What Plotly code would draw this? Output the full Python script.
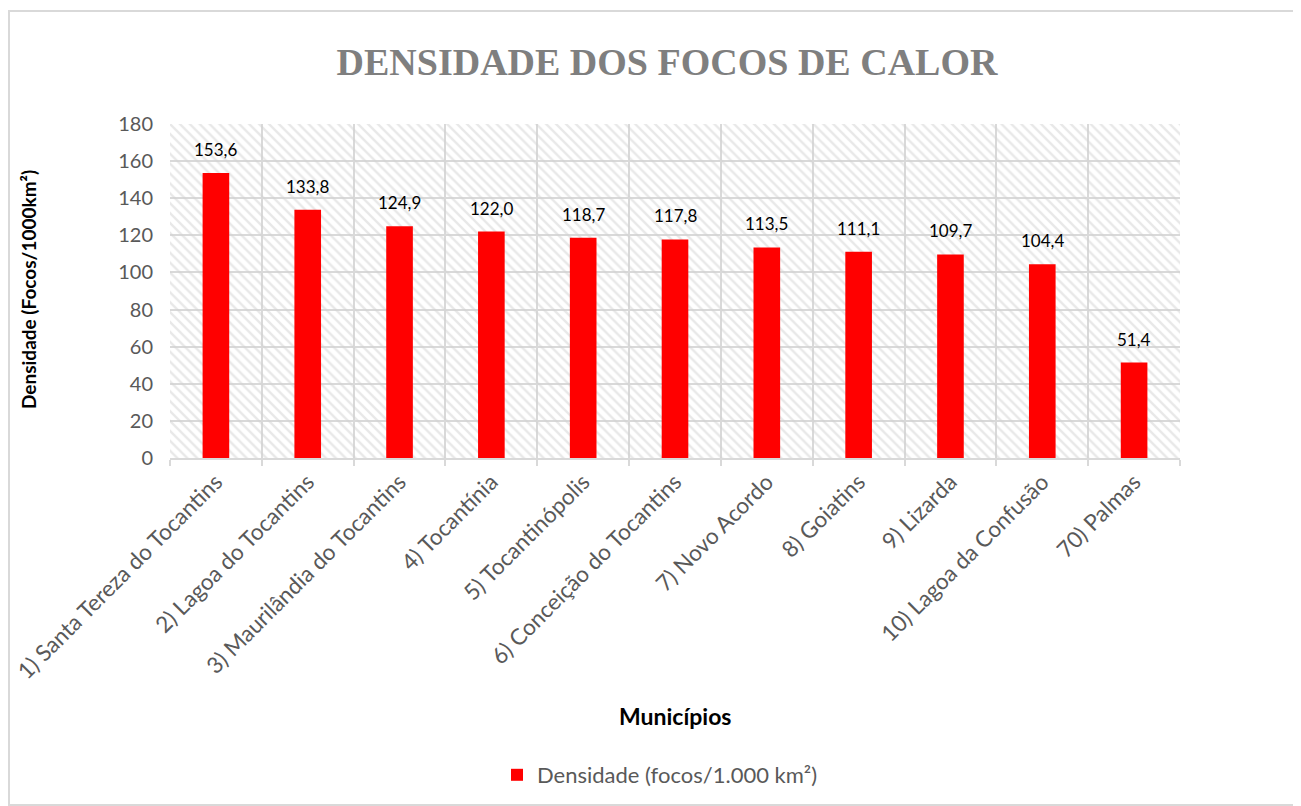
import plotly.graph_objects as go

municipios = [
    "1) Santa Tereza do Tocantins",
    "2) Lagoa do Tocantins",
    "3) Maurilândia do Tocantins",
    "4) Tocantínia",
    "5) Tocantinópolis",
    "6) Conceição do Tocantins",
    "7) Novo Acordo",
    "8) Goiatins",
    "9) Lizarda",
    "10) Lagoa da Confusão",
    "70) Palmas",
]
densidade = [153.6, 133.8, 124.9, 122.0, 118.7, 117.8, 113.5, 111.1, 109.7, 104.4, 51.4]
y_ticks = [0, 20, 40, 60, 80, 100, 120, 140, 160, 180]
y_max = 180

FONT = "Lato"
GRAY = "#595959"

# page offset (body margin) compensation
OFF = 8
L, R, T, B = 170 - OFF, 1180 - OFF, 124 - OFF, 458 - OFF
PW, PH = R - L, B - T


def px_x(px):
    return (px - OFF - L) / PW


def px_y(py):
    return (B - (py - OFF)) / PH


fig = go.Figure()

# hatched plot-area background
fig.add_trace(go.Bar(
    x=municipios, y=[y_max] * len(municipios), width=1,
    marker=dict(color="rgba(0,0,0,0)", line=dict(width=0),
                pattern=dict(shape="\\", fgcolor="#d2d2d2", size=7, solidity=0.35, fillmode="overlay")),
    showlegend=False, hoverinfo="skip",
))

fig.add_trace(go.Bar(
    x=municipios, y=densidade, width=0.29,
    name="Densidade (focos/1.000 km²)",
    marker=dict(color="#ff0000", line=dict(width=0)),
    hovertemplate="%{x}: %{y:.1f}<extra></extra>",
))

# data labels from the data
label_annotations = [
    dict(x=m, y=v, xref="x", yref="y", text=f"{v:.1f}".replace(".", ","), showarrow=False,
         yanchor="bottom", xanchor="center", yshift=11,
         font=dict(family=FONT, size=17, color="#000000"))
    for m, v in zip(municipios, densidade)
]

fig.update_layout(
    width=1301, height=806,
    barmode="overlay",
    separators=",.",
    paper_bgcolor="white", plot_bgcolor="white",
    margin=dict(l=L, r=1301 - R, t=T, b=806 - B, autoexpand=False),
    font=dict(family=FONT, color=GRAY),
    title=dict(text="<b>DENSIDADE DOS FOCOS DE CALOR</b>",
               font=dict(family="Liberation Serif", size=38, color="#7f7f7f"),
               x=px_x(667), xref="paper", y=1 - (62 - OFF) / 806, yref="container",
               xanchor="center", yanchor="middle"),
    showlegend=True,
    legend=dict(orientation="h", x=px_x(660), xanchor="center", y=px_y(775), yanchor="middle",
                font=dict(family=FONT, size=22, color=GRAY), itemwidth=30),
    xaxis=dict(type="category", tickson="boundaries", showgrid=True, gridcolor="#d9d9d9", gridwidth=2,
               tickangle=-45, tickfont=dict(family=FONT, size=22.5, color=GRAY),
               ticks="outside", ticklen=6, tickcolor="#d9d9d9", tickwidth=2, automargin=False,
               showline=True, linecolor="#d9d9d9", linewidth=2, range=[-0.5, 10.5]),
    yaxis=dict(range=[0, y_max], tickvals=y_ticks, showgrid=True, gridcolor="#d9d9d9", gridwidth=2,
               tickfont=dict(family=FONT, size=20, color=GRAY), zeroline=False, ticks="",
               showline=False, ticklabelstandoff=16, automargin=False),
    shapes=[dict(type="rect", xref="paper", yref="paper",
                 x0=px_x(9), x1=px_x(1300),
                 y0=px_y(805), y1=px_y(11),
                 line=dict(color="#d9d9d9", width=2), layer="below")],
    annotations=label_annotations + [
        dict(text="<b>Municípios</b>", xref="paper", yref="paper", x=px_x(675),
             y=px_y(716), xanchor="center", yanchor="middle", showarrow=False,
             font=dict(family=FONT, size=23, color="#000000")),
        dict(text="<b>Densidade (Focos/1000km²)</b>", xref="paper", yref="paper",
             x=px_x(28), y=px_y(290), xanchor="center", yanchor="middle", textangle=-90,
             showarrow=False, font=dict(family=FONT, size=19, color="#000000")),
    ],
)

fig.write_html("out.html")
